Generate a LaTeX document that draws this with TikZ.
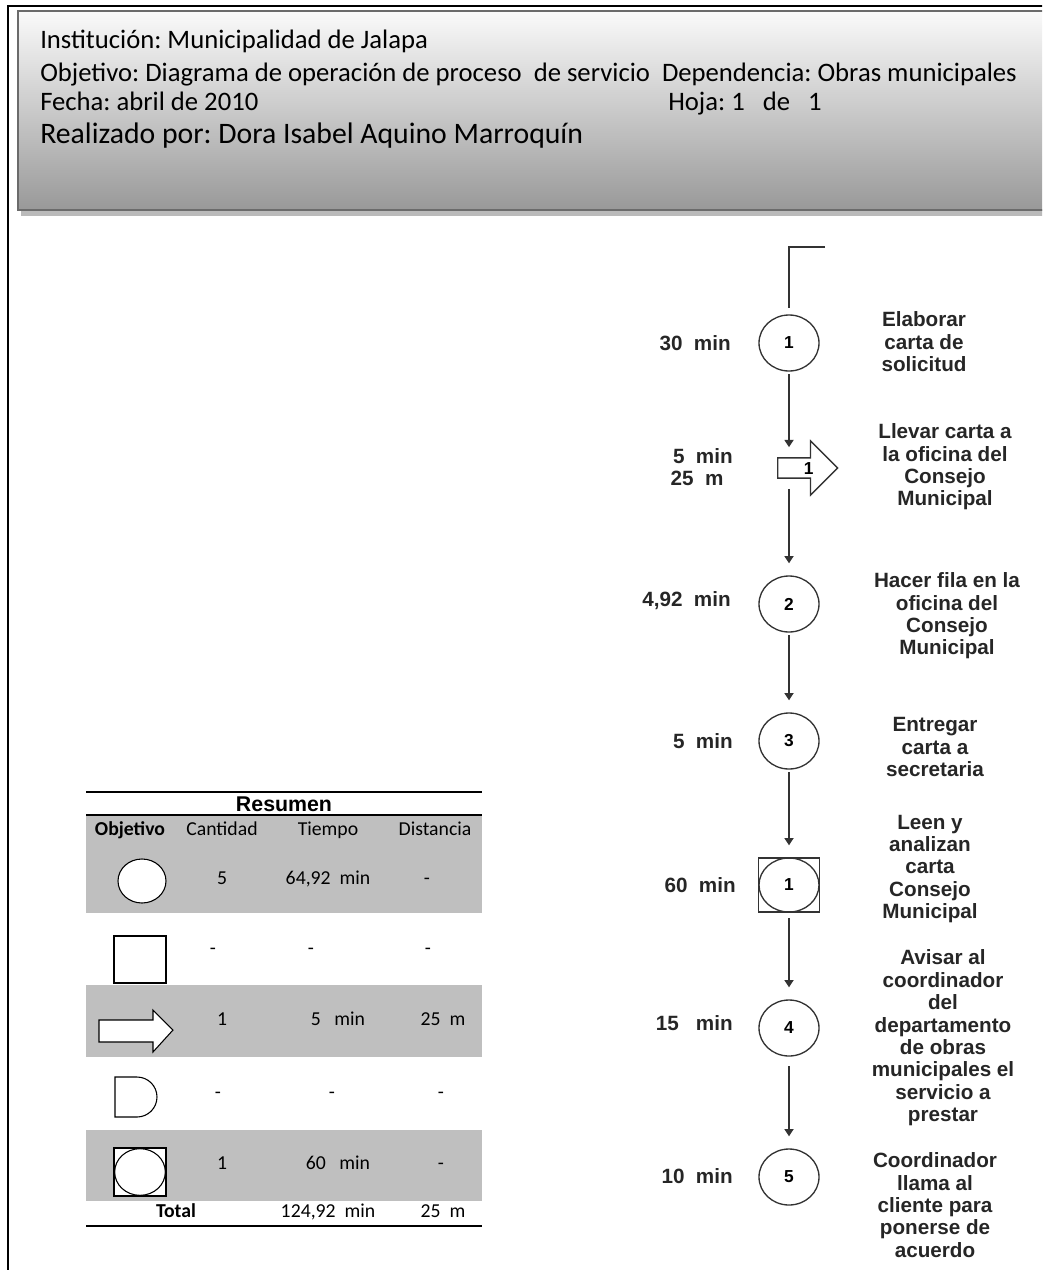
\documentclass[tikz,border=0pt]{standalone}
\usepackage{fontspec}
\setmainfont{Carlito}
\newfontfamily\arialfont{Liberation Sans}
\frenchspacing
\usetikzlibrary{arrows.meta,shapes.geometric,shapes.arrows}
\tikzset{
  flowfont/.style={font=\arialfont\bfseries\fontsize{15.5}{16.8}\selectfont},
  numfont/.style={font=\arialfont\bfseries\fontsize{13}{15}\selectfont},
  oper/.style={draw=black!80, line width=1pt, ellipse, minimum width=45pt,
    minimum height=42pt, inner sep=0pt, numfont},
  inspbox/.style={draw=black!80, line width=1pt, minimum width=45.75pt,
    minimum height=40.5pt, inner sep=0pt, numfont,
    path picture={\draw[line width=1pt] (path picture bounding box.center)
      ellipse[x radius=22.5pt, y radius=20.25pt];}},
  transp/.style={draw=black!80, line width=1pt, single arrow,
    single arrow head extend=12.75pt, minimum height=45pt, inner xsep=0pt,
    inner ysep=2.1pt, text height=10pt, text depth=0pt, numfont},
  flow/.style={draw=black!80, line width=1.3pt,
    -{Triangle[width=6.75pt,length=5.5pt]}, shorten >=9pt, shorten <=2pt},
  timelbl/.style={anchor=east, inner sep=0pt, text=black!85, text height=11pt,
    text depth=0pt, flowfont},
  desc/.style={align=center, inner sep=0pt, text=black!85, flowfont},
  headtxt/.style={anchor=base west, inner sep=0pt,
    font=\fontsize{20}{24}\selectfont},
  cell/.style={inner sep=0pt, text height=10pt, text depth=3pt,
    font=\fontsize{14.8}{17}\selectfont},
  symbol/.style={draw=black, line width=0.8pt, fill=white, inner sep=0pt},
  band/.style={fill=black!25}
}
\begin{document}
\begin{tikzpicture}[x=0.75pt,y=-0.75pt]
  \useasboundingbox (0,0) rectangle (1042,1270);
  \clip (0,0) rectangle (1042,1270);
  % page frame and header
  \draw[line width=1.5pt] (8,1300) -- (8,6) -- (1100,6);
  \fill[black!27] (21,210) rectangle (1100,215.5);
  \draw[draw=black!58, line width=1.5pt, top color=black!2, bottom color=black!40]
    (18,11) rectangle (1100,210);
  \node[headtxt] (inst) at (40,49) {Institución: Municipalidad de Jalapa};
  \node[headtxt] (obj) at (40,81) {Objetivo: Diagrama de operación de proceso \ de servicio \ Dependencia: Obras municipales};
  \node[headtxt] (fecha) at (40,110) {Fecha: abril de 2010};
  \node[headtxt] (hoja) at (668,110) {Hoja: 1 \ \ de \ \ 1};
  \node[headtxt, font=\fontsize{22.3}{26}\selectfont] (autor) at (40,143) {Realizado por: Dora Isabel Aquino Marroquín};

  % process chart
  \coordinate (start) at (825,247);
  \node[oper] (op1) at (789,343) {1};
  \node[transp, anchor=tail] (tr1) at (777,468) {\hspace*{9pt}1};
  \node[oper] (op2) at (789,604) {2};
  \node[oper] (op3) at (789,741) {3};
  \node[inspbox] (in1) at (789,885) {1};
  \node[oper] (op4) at (789,1028) {4};
  \node[oper] (op5) at (789,1177) {5};

  \draw[draw=black!80, line width=1.3pt, shorten >=4.5pt] (start) -| (op1.north);
  \draw[flow, shorten >=7.5pt] (op1) -- (op1 |- tr1.north);
  \draw[flow, shorten <=7.5pt] (op1 |- tr1.south) -- (op2);
  \draw[flow] (op2) -- (op3);
  \draw[flow] (op3) -- (in1);
  \draw[flow, shorten <=4pt] (in1) -- (op4);
  \draw[flow, shorten <=7pt] (op4) -- (op5);

  \node[timelbl] (tm1) at (731,343) {30~~min};
  \node[timelbl, align=center, anchor=center, text height=, text depth=] (tm2) at (700,467) {\ 5~~min\\25~~m\ \ };
  \node[timelbl] (tm3) at (731,599) {4,92~~min};
  \node[timelbl] (tm4) at (733,741) {5~~min};
  \node[timelbl] (tm5) at (736,885) {60~~min};
  \node[timelbl] (tm6) at (733,1023) {15~~~min};
  \node[timelbl] (tm7) at (733,1176) {10~~min};

  \node[desc] (ds1) at (924,342) {Elaborar\\carta de\\solicitud};
  \node[desc] (ds2) at (945,467) {Llevar carta a\\la oficina del\\Consejo\\Municipal};
  \node[desc] (ds3) at (947,616) {Hacer fila en la\\oficina del\\Consejo\\Municipal};
  \node[desc] (ds4) at (935,747) {Entregar\\carta a\\secretaria};
  \node[desc] (ds5) at (930,869) {Leen y\\analizan\\carta\\Consejo\\Municipal};
  \node[desc] (ds6) at (943,1038) {Avisar al\\coordinador\\del\\departamento\\de obras\\municipales el\\servicio a\\prestar};
  \node[desc] (ds7) at (935,1205) {Coordinador\\llama al\\cliente para\\ponerse de\\acuerdo};

  % summary table
  \fill[band] (86,815) rectangle (482,913);
  \fill[band] (86,985) rectangle (482,1057);
  \fill[band] (86,1130) rectangle (482,1201);
  \draw[line width=1.2pt] (86,792) -- (482,792);
  \draw[line width=0.8pt] (86,815) -- (482,815);
  \draw[line width=1.2pt] (86,1226) -- (482,1226);
  \node[inner sep=0pt, font=\arialfont\bfseries\fontsize{16}{18}\selectfont] (res) at (284,804) {Resumen};

  \node[cell, font=\bfseries\fontsize{14.8}{17}\selectfont] (hObj) at (130,831) {Objetivo};
  \node[cell] (hCant) at (222,831) {Cantidad};
  \node[cell] (hTiem) at (328,831) {Tiempo};
  \node[cell] (hDist) at (435,831) {Distancia};

  \node[symbol, ellipse, minimum width=36pt, minimum height=33pt] (sOper) at (142,881) {};
  \node[cell] (cOper) at (222,880) {5};
  \node[cell] (tOper) at (328,880) {64,92~~min};
  \node[cell] (dOper) at (427,880) {-};

  \node[symbol, minimum width=39pt, minimum height=35.25pt] (sInsp) at (140,959.5) {};
  \node[cell] (cInsp) at (213,950) {-};
  \node[cell] (tInsp) at (311,950) {-};
  \node[cell] (dInsp) at (428,950) {-};

  \draw[symbol] (99,1020) -- (153,1020) -- (153,1010) -- (173,1030)
    -- (153,1052) -- (153,1042) -- (99,1042) -- cycle;
  \node[cell] (cTran) at (222,1021) {1};
  \node[cell] (tTran) at (338,1021) {5~~~min};
  \node[cell] (dTran) at (443,1021) {25~~m};

  \draw[symbol] (115,1077) -- (137,1077) arc[start angle=90, end angle=-90, radius=15pt]
    -- (115,1117) -- cycle;
  \node[cell] (cDem) at (218,1094) {-};
  \node[cell] (tDem) at (332,1094) {-};
  \node[cell] (dDem) at (441,1094) {-};

  \node[symbol, minimum width=39pt, minimum height=36pt,
    path picture={\draw[line width=0.8pt] (path picture bounding box.center)
      ellipse[x radius=19pt, y radius=17.5pt];}] (sComb) at (140,1172) {};
  \node[cell] (cComb) at (222,1165) {1};
  \node[cell] (tComb) at (338,1165) {60~~~min};
  \node[cell] (dComb) at (441,1165) {-};

  \node[cell, font=\bfseries\fontsize{14.8}{17}\selectfont] (tot) at (176,1213) {Total};
  \node[cell] (tTot) at (328,1213) {124,92~~min};
  \node[cell] (dTot) at (443,1213) {25~~m};
\end{tikzpicture}
\end{document}
